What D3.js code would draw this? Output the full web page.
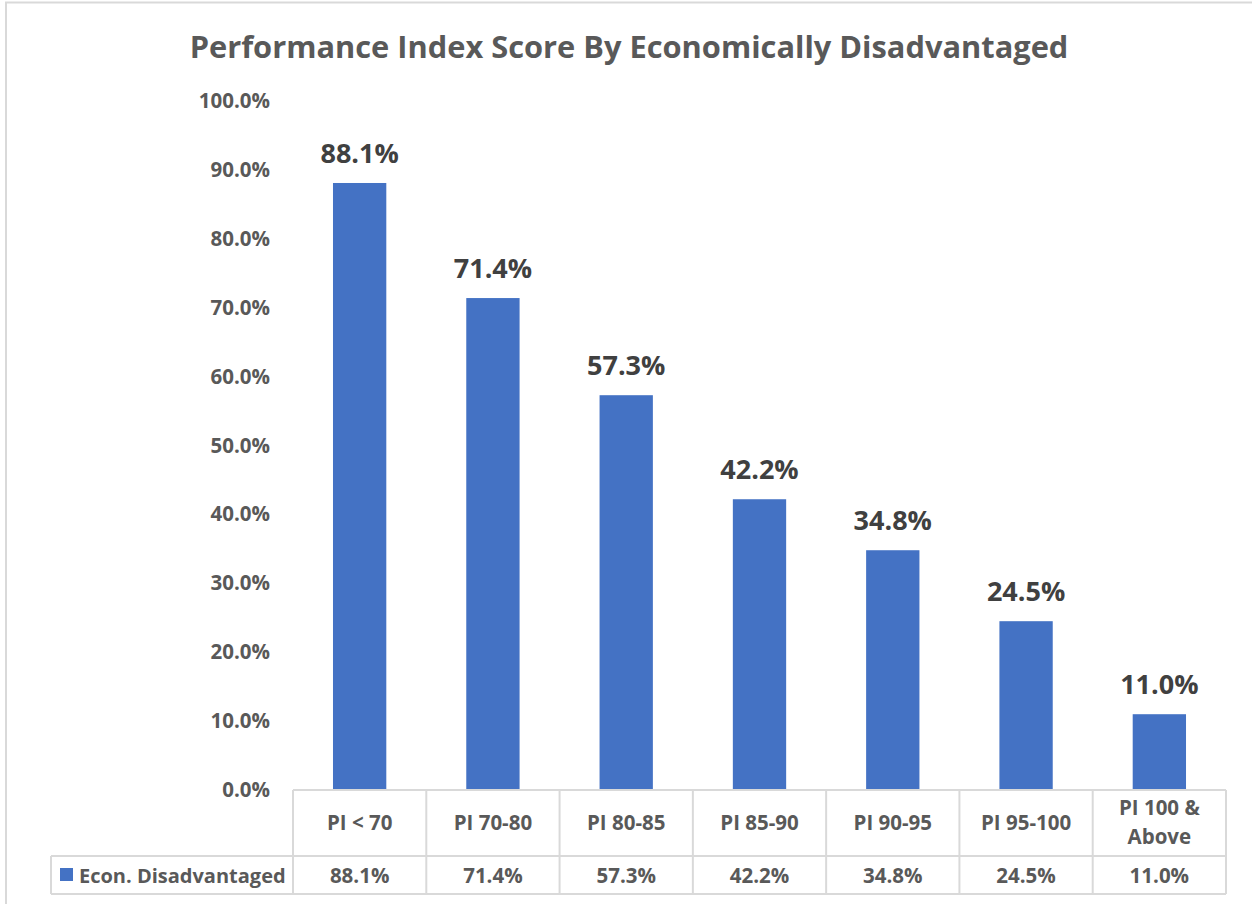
<!DOCTYPE html>
<html>
<head>
<meta charset="utf-8">
<script src="https://cdn.jsdelivr.net/npm/d3@7"></script>
<style>
  body { margin: 0; background: #fff; }
  text { font-family: "Open Sans", sans-serif; font-weight: bold; }
</style>
</head>
<body>
<svg id="mainsvg" width="1252" height="904"></svg>
<script>
const categories = ['PI < 70', 'PI 70-80', 'PI 80-85', 'PI 85-90', 'PI 90-95', 'PI 95-100', 'PI 100 & Above'];
const seriesName = 'Econ. Disadvantaged';
const values = [88.1, 71.4, 57.3, 42.2, 34.8, 24.5, 11.0];
const yTicks = [0, 10, 20, 30, 40, 50, 60, 70, 80, 90, 100];

const svg = d3.select('#mainsvg');
const width = +svg.attr('width');
const height = +svg.attr('height');
const margin = {top: 101, right: 26, bottom: 114, left: 293};
const innerWidth = width - margin.left - margin.right;
const innerHeight = height - margin.top - margin.bottom;
const textColor = '#595959';
const lineColor = '#d9d9d9';
const fmt = v => v.toFixed(1) + '%';

// chart frame (left + top edges visible)
svg.append('line').attr('x1', 6).attr('x2', 6).attr('y1', 2).attr('y2', height)
  .attr('stroke', lineColor).attr('stroke-width', 2);
svg.append('line').attr('x1', 5).attr('x2', width).attr('y1', 2.5).attr('y2', 2.5)
  .attr('stroke', lineColor).attr('stroke-width', 2);

svg.append('text')
  .text('Performance Index Score By Economically Disadvantaged')
  .attr('x', 629).attr('y', 58)
  .attr('text-anchor', 'middle')
  .attr('font-size', '30.8px')
  .attr('fill', textColor);

const g = svg.append('g').attr('id', 'maingroup')
  .attr('transform', `translate(${margin.left}, ${margin.top})`);

const xScale = d3.scaleBand()
  .domain(categories)
  .range([0, innerWidth])
  .padding(0);

const yScale = d3.scaleLinear()
  .domain([0, 100])
  .range([innerHeight, 0]);

const yAxis = d3.axisLeft(yScale).tickValues(yTicks).tickFormat(d => fmt(d)).tickSize(0).tickPadding(23);
const yg = g.append('g').call(yAxis);
yg.select('.domain').remove();
yg.selectAll('.tick text')
  .attr('font-size', '20.5px')
  .attr('font-family', '"Open Sans", sans-serif')
  .attr('fill', textColor);

const barW = xScale.bandwidth() * 0.4;
g.selectAll('.bar').data(values).join('rect')
  .attr('class', 'bar')
  .attr('x', (d, i) => xScale(categories[i]) + (xScale.bandwidth() - barW) / 2)
  .attr('y', d => yScale(d))
  .attr('width', barW)
  .attr('height', d => innerHeight - yScale(d))
  .attr('fill', '#4472c4');

g.selectAll('.barlabel').data(values).join('text')
  .attr('class', 'barlabel')
  .text(d => fmt(d))
  .attr('x', (d, i) => xScale(categories[i]) + xScale.bandwidth() / 2)
  .attr('y', d => yScale(d) - 20)
  .attr('text-anchor', 'middle')
  .attr('font-size', '27px')
  .attr('fill', '#404040');

// data table under the plot
const rowH1 = 66, rowH2 = 38;
const table = g.append('g').attr('transform', `translate(0, ${innerHeight})`);
const legendLeft = 51 - margin.left;

table.append('line').attr('x1', 0).attr('x2', innerWidth).attr('y1', 0).attr('y2', 0)
  .attr('stroke', lineColor).attr('stroke-width', 2);
table.append('line').attr('x1', legendLeft).attr('x2', innerWidth).attr('y1', rowH1).attr('y2', rowH1)
  .attr('stroke', lineColor).attr('stroke-width', 2);
table.append('line').attr('x1', legendLeft).attr('x2', innerWidth).attr('y1', rowH1 + rowH2).attr('y2', rowH1 + rowH2)
  .attr('stroke', lineColor).attr('stroke-width', 2);
table.append('line').attr('x1', legendLeft).attr('x2', legendLeft).attr('y1', rowH1).attr('y2', rowH1 + rowH2)
  .attr('stroke', lineColor).attr('stroke-width', 2);

const bounds = categories.map(c => xScale(c)).concat([innerWidth]);
table.selectAll('.vline').data(bounds).join('line')
  .attr('class', 'vline')
  .attr('x1', d => d).attr('x2', d => d)
  .attr('y1', 0).attr('y2', rowH1 + rowH2)
  .attr('stroke', lineColor).attr('stroke-width', 2);

categories.forEach((c, i) => {
  const cx = xScale(c) + xScale.bandwidth() / 2;
  const words = c === 'PI 100 & Above' ? ['PI 100 &', 'Above'] : [c];
  const t = table.append('text')
    .attr('x', cx)
    .attr('text-anchor', 'middle')
    .attr('font-size', '20.5px')
    .attr('fill', textColor);
  if (words.length === 1) {
    t.attr('y', 40).text(c);
  } else {
    t.attr('y', 25);
    words.forEach((w, k) => {
      t.append('tspan').attr('x', cx).attr('dy', k === 0 ? 0 : 29).text(w);
    });
  }
  table.append('text')
    .text(fmt(values[i]))
    .attr('x', cx)
    .attr('y', rowH1 + 27)
    .attr('text-anchor', 'middle')
    .attr('font-size', '20.5px')
    .attr('fill', textColor);
});

table.append('rect')
  .attr('x', 60 - margin.left).attr('y', rowH1 + 12)
  .attr('width', 13).attr('height', 13)
  .attr('fill', '#4472c4');
table.append('text')
  .text(seriesName)
  .attr('x', 79 - margin.left)
  .attr('y', rowH1 + 27)
  .attr('font-size', '20px')
  .attr('fill', textColor);
</script>
</body>
</html>
